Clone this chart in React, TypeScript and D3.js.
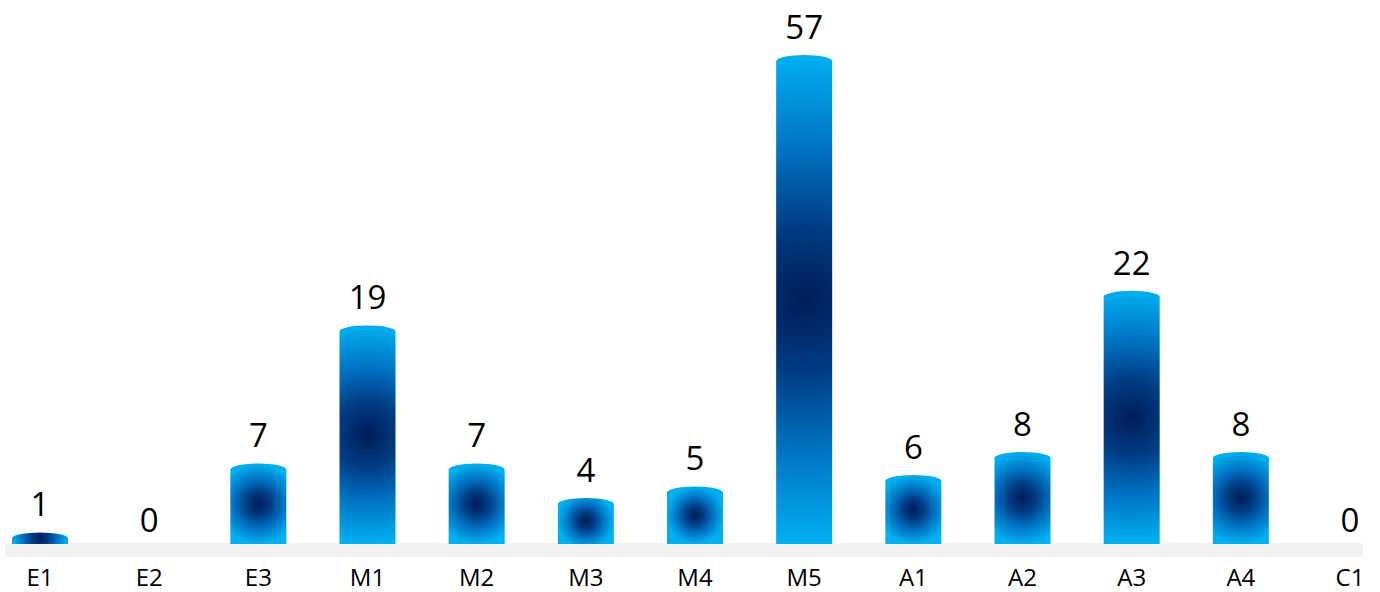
import React from 'react';
import * as d3 from 'd3';

const categories = ['E1', 'E2', 'E3', 'M1', 'M2', 'M3', 'M4', 'M5', 'A1', 'A2', 'A3', 'A4', 'C1'];
const values = [1, 0, 7, 19, 7, 4, 5, 57, 6, 8, 22, 8, 0];

const W = 1380;
const H = 592;
const BASE = 544;
const TOP = 55;
const BAR_W = 56;

export default function App() {
  const x = d3.scalePoint<string>().domain(categories).range([40, 1350]);
  const y = d3.scaleLinear().domain([0, 42.5]).range([BASE, TOP]).clamp(true);

  return (
    <svg
      width={W}
      height={H}
      style={{ position: 'fixed', left: 0, top: 0, background: '#fff' }}
      fontFamily="'Open Sans', sans-serif"
    >
      <defs>
        {categories.map((c, i) => {
          const v = values[i];
          if (v <= 0) return null;
          const cx = x(c) as number;
          const t = y(v);
          const h = BASE - t;
          const r = Math.max(BAR_W, h) / 2;
          return (
            <radialGradient
              key={c}
              id={`g-${c}`}
              gradientUnits="userSpaceOnUse"
              cx={cx}
              cy={t + h / 2}
              r={r}
            >
              <stop offset="0" stopColor="#001D58" />
              <stop offset="0.3" stopColor="#003C84" />
              <stop offset="0.6" stopColor="#0070C0" />
              <stop offset="1" stopColor="#00B0F0" />
            </radialGradient>
          );
        })}
      </defs>
      <rect x={5} y={543} width={1358} height={14} rx={2} fill="#F2F2F2" />
      {categories.map((c, i) => {
        const v = values[i];
        if (v <= 0) return null;
        const cx = x(c) as number;
        const x0 = cx - BAR_W / 2;
        const t = y(v);
        const h = BASE - t;
        const ry = Math.min(6, h / 2);
        const d = `M${x0},${BASE} V${t + ry} A${BAR_W / 2},${ry} 0 0 1 ${x0 + BAR_W},${t + ry} V${BASE} Z`;
        return <path key={c} d={d} fill={`url(#g-${c})`} />;
      })}
      {categories.map((c, i) => {
        const v = values[i];
        const cx = x(c) as number;
        const ly = v > 0 ? y(v) - 16 : BASE - 12;
        return (
          <text key={c} x={cx} y={ly} textAnchor="middle" fontSize={33} fill="#000">
            {v}
          </text>
        );
      })}
      {categories.map((c) => (
        <text key={c} x={x(c) as number} y={586} textAnchor="middle" fontSize={24} fill="#000">
          {c}
        </text>
      ))}
    </svg>
  );
}
